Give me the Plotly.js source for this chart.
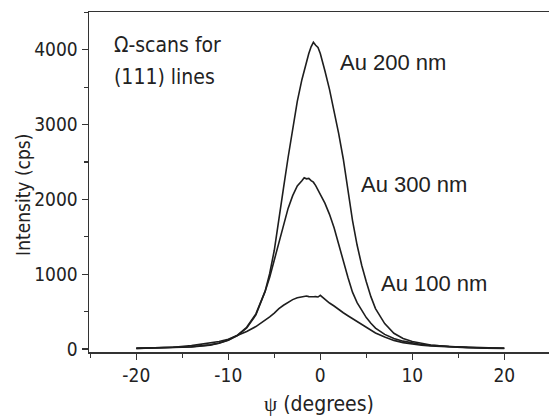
<!DOCTYPE html>
<html>
<head>
<meta charset="utf-8">
<script src="https://cdn.plot.ly/plotly-3.0.1.min.js"></script>
<style>html,body{margin:0;padding:0;background:#fff;}#chart{width:549px;height:416px;}</style>
</head>
<body>
<div id="chart"></div>
<script>
const psi = [-20,-18,-16,-14,-12,-11,-10,-9,-8,-7,-6,-5.5,-5,-4.5,-4,-3.5,-3,-2.5,-2,-1.75,-1.5,-1.25,-1,-0.75,-0.5,-0.25,0,0.25,0.5,1,1.5,2,2.5,3,3.5,4,4.5,5,5.5,6,7,8,9,10,11,12,14,16,18,20];
const au200 = [8,12,18,30,55,80,120,185,290,470,770,1010,1320,1760,2150,2560,2960,3310,3600,3720,3860,3950,4040,4100,4060,4030,3950,3850,3720,3470,3180,2880,2540,2100,1720,1390,1120,900,700,540,340,210,140,100,72,53,33,22,15,10];
const au300 = [8,11,16,27,52,76,116,178,280,455,770,960,1190,1430,1670,1880,2050,2180,2250,2290,2275,2280,2250,2230,2185,2130,2080,2020,1950,1800,1620,1400,1170,960,760,620,520,420,345,280,195,140,105,80,60,48,30,20,14,10];
const au100 = [10,15,24,45,75,100,130,180,235,300,380,430,480,540,585,625,660,685,700,703,708,700,704,698,700,695,718,690,670,615,575,525,485,445,405,365,325,285,250,215,160,115,85,65,50,40,26,18,12,9];
const seriesNames = ["Au 200 nm","Au 300 nm","Au 100 nm"];
const xTicks = [-20,-10,0,10,20];
const yTicks = [0,1000,2000,3000,4000];

const lineStyle = {color:'#1e1e1e', width:1.6};
const traces = [au200, au300, au100].map((v,i)=>({
  x: psi, y: v, type:'scatter', mode:'lines', name: seriesNames[i], line: lineStyle, showlegend:false
}));

const condensed = '"DejaVu Sans Condensed", "DejaVu Sans", sans-serif';
const arial = '"Liberation Sans", Arial, sans-serif';

const layout = {
  width:549, height:416,
  margin:{l:89, r:0, t:12, b:64},
  paper_bgcolor:'#fff', plot_bgcolor:'#fff',
  xaxis:{
    range:[-25.14, 24.86], tickvals:xTicks, ticktext:xTicks.map(String),
    ticks:'outside', ticklen:6, tickwidth:1.3, tickcolor:'#333',
    minor:{dtick:5, tick0:0, ticks:'outside', ticklen:4, tickcolor:'#333', tickwidth:1.3},
    showline:true, linecolor:'#333', linewidth:1.5, mirror:true,
    showgrid:false, zeroline:false,
    tickfont:{family:condensed, size:19, color:'#222'},
    title:{text:'<span style="font-family:\'Liberation Serif\', serif;color:#222">ψ</span> (degrees)', font:{family:condensed, size:21, color:'#222'}, standoff:12}
  },
  yaxis:{
    range:[-40, 4505], tickvals:yTicks, ticktext:yTicks.map(String),
    ticks:'outside', ticklen:6, tickwidth:1.3, tickcolor:'#333',
    minor:{dtick:500, tick0:0, ticks:'outside', ticklen:4, tickcolor:'#333', tickwidth:1.3},
    showline:true, linecolor:'#333', linewidth:1.5, mirror:false,
    showgrid:false, zeroline:false,
    tickfont:{family:condensed, size:19, color:'#222'}
  },
  annotations:[
    {xref:'paper', yref:'paper', x:-0.1435, y:0.462, xanchor:'center', yanchor:'middle', textangle:-90, showarrow:false, text:'Intensity (cps)', font:{family:condensed, size:19, color:'#222'}},
    {xref:'x', yref:'y', x:-22.6, y:4064, xanchor:'left', yanchor:'middle', showarrow:false, text:'Ω-scans for', font:{family:condensed, size:21, color:'#222'}},
    {xref:'x', yref:'y', x:-22.6, y:3636, xanchor:'left', yanchor:'middle', showarrow:false, text:'(111) lines', font:{family:condensed, size:21, color:'#222'}},
    {xref:'x', yref:'y', x:1.9, y:3824, xanchor:'left', yanchor:'middle', showarrow:false, text:seriesNames[0], font:{family:arial, size:22, color:'#222'}},
    {xref:'x', yref:'y', x:4.2, y:2193, xanchor:'left', yanchor:'middle', showarrow:false, text:seriesNames[1], font:{family:arial, size:22, color:'#222'}},
    {xref:'x', yref:'y', x:6.4, y:882, xanchor:'left', yanchor:'middle', showarrow:false, text:seriesNames[2], font:{family:arial, size:22, color:'#222'}}
  ]
};

Plotly.newPlot('chart', traces, layout, {displayModeBar:false, staticPlot:true});
</script>
</body>
</html>
